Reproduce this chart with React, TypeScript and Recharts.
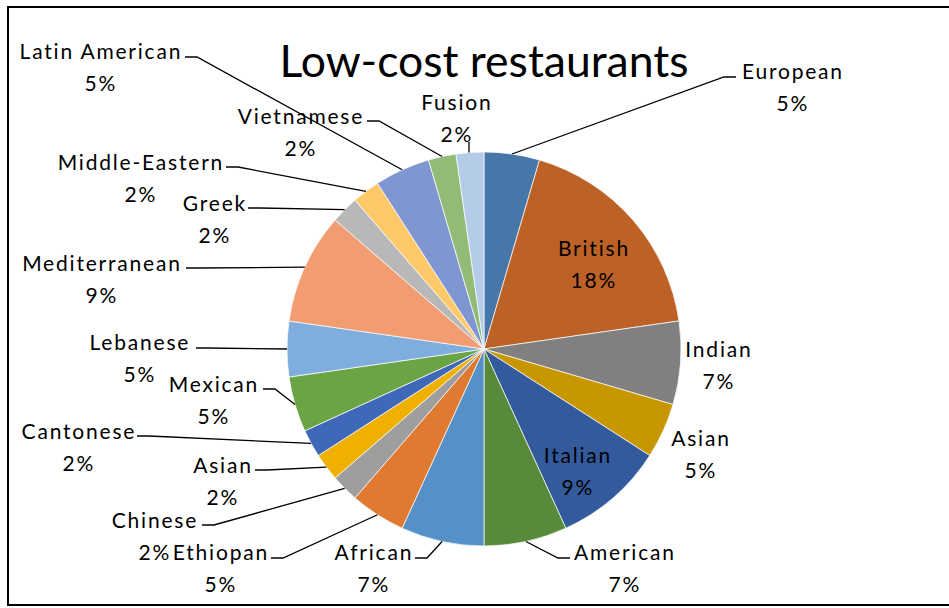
import React from 'react';
import { PieChart, Pie, Cell } from 'recharts';

// categories clockwise from 12 o'clock, with restaurant counts
const cuisines = [
    'European', 'British', 'Indian', 'Asian', 'Italian', 'American', 'African',
    'Ethiopan', 'Chinese', 'Asian', 'Cantonese', 'Mexican', 'Lebanese',
    'Mediterranean', 'Greek', 'Middle-Eastern', 'Latin American', 'Vietnamese', 'Fusion',
];
const counts = [2, 8, 3, 2, 4, 3, 3, 2, 1, 1, 1, 2, 2, 4, 1, 1, 2, 1, 1];
const percentLabels = [
    '5%', '18%', '7%', '5%', '9%', '7%', '7%', '5%', '2%', '2%', '2%', '5%', '5%',
    '9%', '2%', '2%', '5%', '2%', '2%',
];

const colors = [
    '#4677A8', '#BC6226', '#808080', '#C89700', '#335A9C', '#578A3A', '#5590C8',
    '#E07A30', '#9E9E9E', '#F0B000', '#4068B8', '#6BA445', '#7FAEDE',
    '#F29C72', '#B8B8B8', '#FFC96A', '#7F96D0', '#93BB78', '#B4CCE8',
];

// where Excel put each data label (centre of first line) and where its leader line attaches
// dir: +1 stub runs right of the anchor, -1 left, 0 vertical stub, null = no leader line
const labelLayout: { tx: number; ty: number; ax?: number; ay?: number; dir?: number | null }[] = [
    { tx: 792, ty: 72, ax: 736, ay: 77, dir: -1 },
    { tx: 593, ty: 249, dir: null },
    { tx: 718, ty: 350, dir: null },
    { tx: 700, ty: 439, dir: null },
    { tx: 577, ty: 456, dir: null },
    { tx: 624, ty: 553, ax: 570, ay: 558, dir: -1 },
    { tx: 373, ty: 553, ax: 415, ay: 558, dir: 1 },
    { tx: 220, ty: 553, ax: 271, ay: 558, dir: 1 },
    { tx: 154, ty: 521, ax: 202, ay: 525, dir: 1 },
    { tx: 222, ty: 466, ax: 255, ay: 470, dir: 1 },
    { tx: 78, ty: 432, ax: 137, ay: 436, dir: 1 },
    { tx: 213, ty: 385, ax: 263, ay: 389, dir: 1 },
    { tx: 139, ty: 343, ax: 196, ay: 348, dir: 1 },
    { tx: 101, ty: 264, ax: 186, ay: 268, dir: 1 },
    { tx: 214, ty: 204, ax: 248, ay: 208, dir: 1 },
    { tx: 140, ty: 163, ax: 226, ay: 167, dir: 1 },
    { tx: 100, ty: 52, ax: 185, ay: 57, dir: 1 },
    { tx: 300, ty: 117, ax: 367, ay: 121, dir: 1 },
    { tx: 456, ty: 103, ax: 469, ay: 142, dir: 0 },
];

const data = cuisines.map((name, i) => ({ name, value: counts[i], pct: percentLabels[i] }));

const RADIAN = Math.PI / 180;
const FONT = 'Lato, "Open Sans", sans-serif';
const LABEL_SIZE = 21;
const LABEL_SPACING = 1.8;

const renderLabel = (props: any) => {
    const { cx, cy, midAngle, outerRadius, index } = props;
    const pos = labelLayout[index];
    const d = data[index];
    let leader: React.ReactNode = null;
    if (pos.dir !== null && pos.ax !== undefined && pos.ay !== undefined) {
        const ex = cx + outerRadius * Math.cos(-midAngle * RADIAN);
        const ey = cy + outerRadius * Math.sin(-midAngle * RADIAN);
        const bx = pos.dir === 0 ? pos.ax : pos.ax + (pos.dir as number) * 12;
        const by = pos.dir === 0 ? pos.ay + 2 : pos.ay;
        leader = (
            <polyline
                points={`${pos.ax},${pos.ay} ${bx},${by} ${pos.dir === 0 ? bx : ex},${ey}`}
                fill="none"
                stroke="#000"
                strokeWidth={1.3}
            />
        );
    }
    // letterSpacing leaves a trailing gap, nudge back so the text stays centred
    const x = pos.tx + LABEL_SPACING / 2;
    const y = pos.ty - 1.5;
    return (
        <g key={`lbl-${index}`}>
            {leader}
            <text
                x={x}
                y={y}
                textAnchor="middle"
                dominantBaseline="central"
                fill="#000"
                fontFamily={FONT}
                fontSize={LABEL_SIZE}
                letterSpacing={LABEL_SPACING}
            >
                {d.name}
            </text>
            <text
                x={x}
                y={y + 32}
                textAnchor="middle"
                dominantBaseline="central"
                fill="#000"
                fontFamily={FONT}
                fontSize={LABEL_SIZE}
                letterSpacing={LABEL_SPACING}
            >
                {d.pct}
            </text>
        </g>
    );
};

export default function App() {
    return (
        <div style={{ position: 'absolute', left: 0, top: 0, width: 949, height: 608, background: '#fff' }}>
            <div
                style={{
                    position: 'absolute',
                    left: 7,
                    top: 6,
                    width: 960,
                    height: 600,
                    border: '2px solid #000',
                    boxSizing: 'border-box',
                }}
            />
            <PieChart
                width={949}
                height={608}
                margin={{ top: 0, right: 0, bottom: 0, left: 0 }}
                style={{ position: 'absolute', left: 0, top: 0 }}
            >
                <text
                    x={484}
                    y={59}
                    textAnchor="middle"
                    dominantBaseline="central"
                    fontFamily={FONT}
                    fontSize={44.5}
                    fill="#000"
                >
                    Low-cost restaurants
                </text>
                <Pie
                    data={data}
                    dataKey="value"
                    nameKey="name"
                    cx={484}
                    cy={349}
                    outerRadius={197}
                    startAngle={90}
                    endAngle={-270}
                    stroke="#fff"
                    strokeWidth={0.7}
                    label={renderLabel}
                    labelLine={false}
                    isAnimationActive={false}
                >
                    {data.map((d, i) => (
                        <Cell key={`c-${i}`} fill={colors[i]} />
                    ))}
                </Pie>
            </PieChart>
        </div>
    );
}
